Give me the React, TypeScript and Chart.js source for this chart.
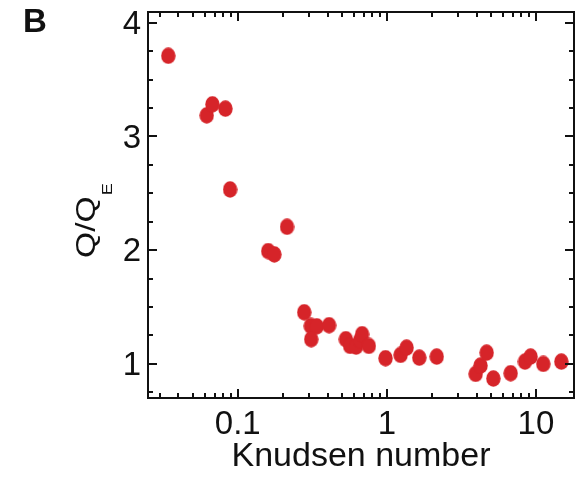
import React, { useEffect, useRef } from 'react';
import { Chart, registerables } from 'chart.js';

Chart.register(...registerables);

// Data
const knudsenNumber = [
  0.0342, 0.0619, 0.0676, 0.0826, 0.0888,
  0.160, 0.176, 0.214,
  0.279, 0.309, 0.339, 0.311, 0.410,
  0.531, 0.567, 0.622, 0.662, 0.682, 0.757,
  0.98, 1.236, 1.356, 1.65, 2.16,
  3.94, 4.25, 4.67, 5.18, 6.77, 8.44, 9.21, 11.2, 14.8,
];
const heatRatio = [
  3.71, 3.186, 3.283, 3.245, 2.534,
  1.992, 1.963, 2.206,
  1.454, 1.334, 1.33, 1.217, 1.34,
  1.217, 1.158, 1.152, 1.21, 1.261, 1.158,
  1.05, 1.079, 1.143, 1.055, 1.064,
  0.912, 0.985, 1.099, 0.871, 0.918, 1.02, 1.064, 1.0, 1.02,
];

const xMajorTicks = [0.1, 1, 10];
const xMinorTicks = [
  0.03, 0.04, 0.05, 0.06, 0.07, 0.08, 0.09,
  0.2, 0.3, 0.4, 0.5, 0.6, 0.7, 0.8, 0.9,
  2, 3, 4, 5, 6, 7, 8, 9,
];
const yMajorTicks = [1, 2, 3, 4];
const yMinorTicks = [0.75, 1.25, 1.5, 1.75, 2.25, 2.5, 2.75, 3.25, 3.5, 3.75];

const xTitle = 'Knudsen number';
const yTitleMain = 'Q/Q';
const yTitleSub = 'E';
const panelLabel = 'B';

const RED = 'rgb(214,36,41)';
const FONT = '"Liberation Sans", Arial, Helvetica, sans-serif';

export default function App() {
  const canvasRef = useRef<HTMLCanvasElement | null>(null);

  useEffect(() => {
    const canvas = canvasRef.current;
    if (!canvas) return;

    // elliptical marker
    const marker = document.createElement('canvas');
    marker.width = 15;
    marker.height = 17;
    const mctx = marker.getContext('2d')!;
    mctx.fillStyle = RED;
    mctx.beginPath();
    mctx.ellipse(7.5, 8.5, 7.2, 8.2, 0, 0, Math.PI * 2);
    mctx.fill();

    const framePlugin = {
      id: 'frameTicks',
      afterDraw(chart: any) {
        const { ctx, chartArea } = chart;
        const xs = chart.scales.x;
        const ys = chart.scales.y;
        const { left, right, top, bottom } = chartArea;
        ctx.save();
        ctx.strokeStyle = '#111';
        ctx.lineWidth = 2;
        ctx.lineCap = 'butt';
        ctx.strokeRect(left, top, right - left, bottom - top);
        const drawX = (v: number, len: number) => {
          const px = Math.round(xs.getPixelForValue(v));
          ctx.beginPath();
          ctx.moveTo(px, bottom);
          ctx.lineTo(px, bottom - len);
          ctx.moveTo(px, top);
          ctx.lineTo(px, top + len);
          ctx.stroke();
        };
        const drawY = (v: number, len: number) => {
          const py = Math.round(ys.getPixelForValue(v));
          ctx.beginPath();
          ctx.moveTo(left, py);
          ctx.lineTo(left + len, py);
          ctx.moveTo(right, py);
          ctx.lineTo(right - len, py);
          ctx.stroke();
        };
        xMajorTicks.forEach((v) => drawX(v, 9));
        xMinorTicks.forEach((v) => drawX(v, 5));
        yMajorTicks.forEach((v) => drawY(v, 9));
        yMinorTicks.forEach((v) => drawY(v, 5));

        // panel label
        ctx.fillStyle = '#111';
        ctx.font = `bold 33px ${FONT}`;
        ctx.textAlign = 'left';
        ctx.textBaseline = 'alphabetic';
        ctx.fillText(panelLabel, 23, 32);

        // y title with subscript
        ctx.save();
        ctx.translate(95, 258);
        ctx.rotate(-Math.PI / 2);
        ctx.scale(1.2, 1);
        ctx.font = `28px ${FONT}`;
        ctx.fillStyle = '#111';
        ctx.fillText(yTitleMain, 0, 0);
        const w = ctx.measureText(yTitleMain).width;
        ctx.font = `15px ${FONT}`;
        ctx.fillText(yTitleSub, w + 1, 16.5);
        ctx.restore();

        ctx.restore();
      },
    };

    const chart = new Chart(canvas, {
      type: 'scatter',
      data: {
        datasets: [
          {
            data: knudsenNumber.map((x, i) => ({ x, y: heatRatio[i] })),
            pointStyle: marker as any,
            pointRadius: 7,
            backgroundColor: RED,
            borderColor: RED,
          },
        ],
      },
      plugins: [framePlugin],
      options: {
        animation: false,
        responsive: false,
        maintainAspectRatio: false,
        layout: { padding: { top: 12, right: 12, left: 0, bottom: 0 } },
        plugins: {
          legend: { display: false },
          tooltip: { enabled: false },
        },
        scales: {
          x: {
            type: 'logarithmic',
            min: 0.025,
            max: 18,
            grid: { display: false, drawTicks: false },
            border: { display: false },
            afterBuildTicks: (scale: any) => {
              scale.ticks = xMajorTicks.map((v) => ({ value: v }));
            },
            afterFit: (scale: any) => {
              scale.height = 79;
              scale.paddingLeft = 0;
              scale.paddingRight = 0;
            },
            ticks: {
              color: '#111',
              padding: 7,
              maxRotation: 0,
              autoSkip: false,
              font: { family: FONT, size: 33 },
              callback: (v: any) => String(v),
            },
            title: {
              display: true,
              text: xTitle,
              color: '#111',
              padding: { top: 0, bottom: 0 },
              font: { family: FONT, size: 34 },
            },
          },
          y: {
            type: 'linear',
            min: 0.7,
            max: 4.095,
            grid: { display: false, drawTicks: false },
            border: { display: false },
            afterBuildTicks: (scale: any) => {
              scale.ticks = yMajorTicks.map((v) => ({ value: v }));
            },
            afterFit: (scale: any) => {
              scale.width = 148;
              scale.paddingTop = 0;
              scale.paddingBottom = 0;
            },
            ticks: {
              color: '#111',
              padding: 7,
              labelOffset: 2,
              font: { family: FONT, size: 33 },
              callback: (v: any) => String(v),
            },
          },
        },
      },
    });

    return () => chart.destroy();
  }, []);

  return (
    <div style={{ position: 'absolute', left: 0, top: 0, width: 586, height: 477, background: '#fff' }}>
      <canvas ref={canvasRef} width={586} height={477} style={{ width: 586, height: 477, display: 'block' }} />
    </div>
  );
}
